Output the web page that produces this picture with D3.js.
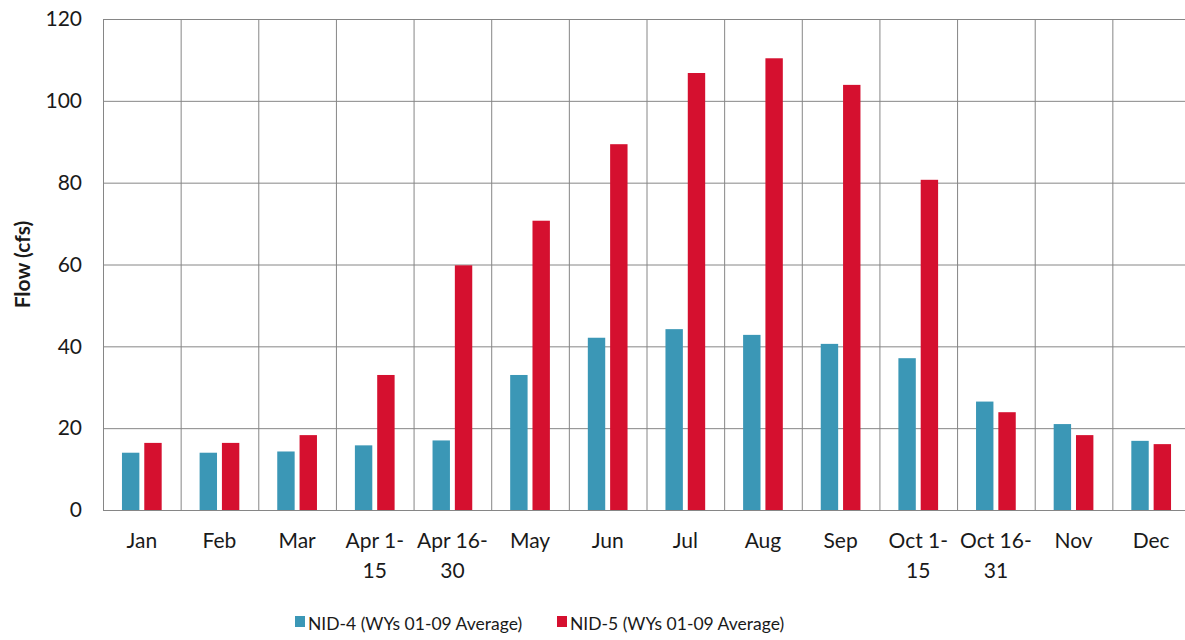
<head>
    <script src="https://d3js.org/d3.v7.min.js"></script>
    <style>
    body { margin: 0; background: #fff; }
    .gridlines line { stroke: #868686; }
    .gridlines .domain { stroke: none; }
    .axis .domain { stroke: none; }
    .axis text { font-family: Lato, "Open Sans", sans-serif; fill: #1a1a1a; }
    </style>
</head>
<body>
<svg id="chart" width="1185" height="640"></svg>
<script>
    // categories along the bottom
    const categories = ['Jan', 'Feb', 'Mar', 'Apr 1-15', 'Apr 16-30', 'May', 'Jun', 'Jul',
                        'Aug', 'Sep', 'Oct 1-15', 'Oct 16-31', 'Nov', 'Dec'];
    const seriesNames = ['NID-4 (WYs 01-09 Average)', 'NID-5 (WYs 01-09 Average)'];
    const nid4 = [14.0, 14.0, 14.3, 15.8, 17.0, 33.0, 42.1, 44.2, 42.8, 40.6, 37.1, 26.5, 21.0, 16.9];
    const nid5 = [16.4, 16.4, 18.3, 33.0, 59.8, 70.7, 89.4, 106.8, 110.4, 103.9, 80.7, 23.9, 18.3, 16.1];
    const yTicks = [0, 20, 40, 60, 80, 100, 120];
    const colors = ['#3b97b6', '#d5102f'];

    const svg = d3.select('svg#chart');
    const margins = {top: 19, right: -5, bottom: 130, left: 103};
    const width = +svg.attr('width');
    const height = +svg.attr('height');
    const chartWidth = width - margins.left - margins.right;
    const chartHeight = height - margins.top - margins.bottom;

    let chartArea = svg.append('g')
                       .attr('transform', `translate(${margins.left},${margins.top})`);

    const xScale = d3.scaleBand().domain(categories).range([0, chartWidth]);
    const innerScale = d3.scaleBand().domain(seriesNames)
                         .range([0, xScale.bandwidth()])
                         .paddingInner(0.22).paddingOuter(0.85);
    const yScale = d3.scaleLinear().domain([0, 120]).range([chartHeight, 0]);

    // horizontal gridlines
    let leftGridlines = d3.axisLeft(yScale).tickValues(yTicks)
                          .tickSize(-chartWidth).tickFormat('');
    chartArea.append('g').attr('class', 'y gridlines').call(leftGridlines);

    // vertical gridlines on band edges
    chartArea.append('g').attr('class', 'x gridlines')
      .selectAll('line')
      .data(categories)
      .join('line')
      .attr('x1', d => xScale(d) + 0.5)
      .attr('x2', d => xScale(d) + 0.5)
      .attr('y1', 0)
      .attr('y2', chartHeight);

    // bars
    const rows = categories.map((c, i) => ({cat: c, vals: [nid4[i], nid5[i]]}));
    rows.forEach(row => {
        row.vals.forEach((v, j) => {
            chartArea.append('rect')
                .attr('x', xScale(row.cat) + innerScale(seriesNames[j]))
                .attr('y', yScale(v))
                .attr('width', innerScale.bandwidth())
                .attr('height', yScale(0) - yScale(v))
                .style('fill', colors[j]);
        });
    });

    // y axis labels
    let leftAxis = d3.axisLeft(yScale).tickValues(yTicks).tickSize(0).tickPadding(21);
    let yAxisG = chartArea.append('g').attr('class', 'y axis').call(leftAxis);
    yAxisG.selectAll('text').style('font-size', '21px');

    // x axis labels, split after the dash
    let bottomAxis = d3.axisBottom(xScale).tickSize(0).tickPadding(0).tickFormat('');
    let xAxisG = chartArea.append('g').attr('class', 'x axis')
                          .attr('transform', `translate(0,${chartHeight})`)
                          .call(bottomAxis);
    xAxisG.selectAll('.tick').append('text')
        .attr('text-anchor', 'middle')
        .style('font-size', '21px')
        .each(function(d) {
            const m = d.match(/^(.*-)(\d+)$/);
            const lines = m ? [m[1], m[2]] : [d];
            d3.select(this).selectAll('tspan')
              .data(lines)
              .join('tspan')
              .attr('x', 0)
              .attr('y', (l, k) => 38 + k * 30)
              .text(l => l);
        });

    // y title
    svg.append('text')
       .attr('transform', `translate(30,${margins.top + chartHeight / 2}) rotate(-90)`)
       .attr('text-anchor', 'middle')
       .style('font-family', 'Lato, "Open Sans", sans-serif')
       .style('font-weight', 'bold')
       .style('font-size', '21px')
       .style('fill', '#1a1a1a')
       .text('Flow (cfs)');

    // legend
    const legendX = [295, 557];
    let legend = svg.append('g').attr('class', 'legend');
    seriesNames.forEach((name, j) => {
        legend.append('rect')
              .attr('x', legendX[j]).attr('y', 616)
              .attr('width', 10).attr('height', 11)
              .style('fill', colors[j]);
        legend.append('text')
              .attr('x', legendX[j] + 13).attr('y', 630)
              .style('font-family', 'Lato, "Open Sans", sans-serif')
              .style('font-size', '17.5px')
              .style('fill', '#1a1a1a')
              .text(name);
    });
</script>
</body>
